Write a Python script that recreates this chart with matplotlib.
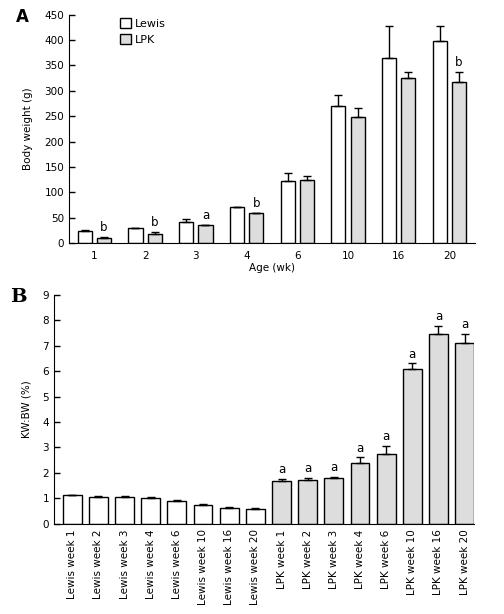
import matplotlib.pyplot as plt
import numpy as np

# panel A: body weight
ages = ["1", "2", "3", "4", "6", "10", "16", "20"]
lewis_bw = [23, 29, 41, 72, 122, 270, 364, 399]
lewis_bw_err = [2, 0, 6, 0, 16, 21, 64, 28]
lpk_bw = [11, 19, 35, 59, 124, 248, 325, 317]
lpk_bw_err = [2, 2, 1, 1, 8, 18, 12, 20]
lpk_bw_sig = ["b", "b", "a", "b", "", "", "", "b"]

# panel B: KW:BW ratio
kw_labels = ["Lewis week 1", "Lewis week 2", "Lewis week 3", "Lewis week 4",
             "Lewis week 6", "Lewis week 10", "Lewis week 16", "Lewis week 20",
             "LPK week 1", "LPK week 2", "LPK week 3", "LPK week 4",
             "LPK week 6", "LPK week 10", "LPK week 16", "LPK week 20"]
kw_vals = [1.14, 1.06, 1.06, 1.02, 0.91, 0.75, 0.63, 0.59,
           1.69, 1.72, 1.80, 2.39, 2.74, 6.08, 7.46, 7.11]
kw_err = [0.0, 0.04, 0.03, 0.03, 0.04, 0.03, 0.04, 0.02,
          0.08, 0.08, 0.04, 0.23, 0.33, 0.23, 0.31, 0.35]
kw_sig = [""] * 8 + ["a"] * 8

GRAY = "#dcdddc"
plt.rcParams["font.family"] = ["DejaVu Sans"]
plt.rcParams["font.size"] = 7.5

fig = plt.figure(figsize=(5.04, 6.14), dpi=100)
ax1 = fig.add_axes([0.137, 0.604, 0.805, 0.372])
ax2 = fig.add_axes([0.107, 0.147, 0.833, 0.373])

err_kw = dict(ecolor="black", elinewidth=1, capsize=3, capthick=1)

x = np.arange(len(ages))
off, w = 0.19, 0.28
ax1.bar(x - off, lewis_bw, w, color="white", edgecolor="black", linewidth=1,
        label="Lewis", yerr=[np.zeros(len(x)), lewis_bw_err], error_kw=err_kw)
ax1.bar(x + off, lpk_bw, w, color=GRAY, edgecolor="black", linewidth=1,
        label="LPK", yerr=[np.zeros(len(x)), lpk_bw_err], error_kw=err_kw)
for xi, v, e, s in zip(x, lpk_bw, lpk_bw_err, lpk_bw_sig):
    if s:
        ax1.text(xi + off, v + e + 6, s, ha="center", va="bottom", fontsize=8.5)
ax1.set_xlim(-0.5, 7.5)
ax1.set_ylim(0, 450)
ax1.set_yticks(range(0, 451, 50))
ax1.set_xticks(x)
ax1.set_xticklabels(ages)
ax1.set_ylabel("Body weight (g)", labelpad=8)
ax1.set_xlabel("Age (wk)", labelpad=1)
ax1.legend(loc="upper left", bbox_to_anchor=(0.1, 1.03), frameon=False,
           handlelength=1.0, handleheight=1.0, handletextpad=0.4,
           labelspacing=0.5, fontsize=8)
ax1.text(-0.115, 0.99, "A", transform=ax1.transAxes, fontsize=12,
         fontweight="bold", ha="center", va="center")

xb = np.arange(len(kw_labels))
colors = ["white"] * 8 + [GRAY] * 8
ax2.bar(xb, kw_vals, 0.72, color=colors, edgecolor="black", linewidth=1,
        yerr=[np.zeros(len(xb)), kw_err], error_kw=err_kw)
for xi, v, e, s in zip(xb, kw_vals, kw_err, kw_sig):
    if s:
        ax2.text(xi, v + e + 0.1, s, ha="center", va="bottom", fontsize=8.5)
ax2.set_xlim(-0.7, 15.35)
ax2.set_ylim(0, 9)
ax2.set_yticks(range(0, 10))
ax2.set_xticks(xb)
ax2.set_xticklabels(kw_labels, rotation=90, fontsize=7.5)
ax2.set_ylabel("KW:BW (%)", labelpad=8)
ax2.text(-0.085, 0.99, "B", transform=ax2.transAxes, fontsize=14,
         fontweight="bold", family="DejaVu Serif", ha="center", va="center")

for ax in (ax1, ax2):
    ax.spines["top"].set_visible(False)
    ax.spines["right"].set_visible(False)
    ax.tick_params(axis="y", direction="in", length=4, width=1)
ax1.tick_params(axis="x", length=0, pad=6)
ax2.tick_params(axis="x", length=0, pad=4)

fig.savefig("out.png", dpi=100)
